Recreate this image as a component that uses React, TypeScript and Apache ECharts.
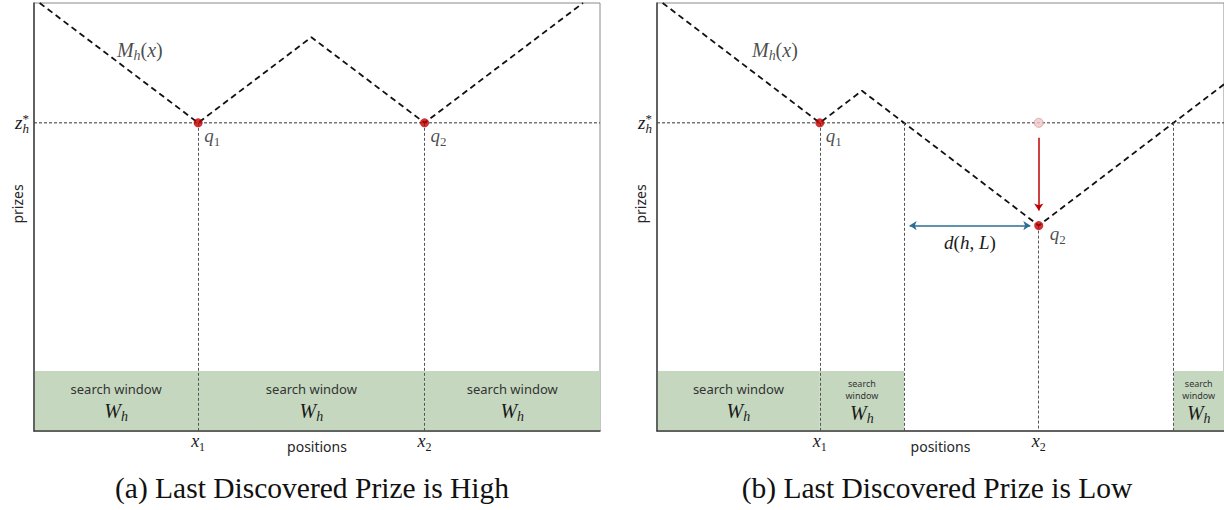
import React, { useEffect, useRef } from "react";
import * as echarts from "echarts";

// Threshold prize z*_h and the height of the search-window band (prize units)
const zStar = 72;
const windowBand = 14;

// Panel (a): last discovered prize is high
const envelopeA: number[][] = [[1, 100], [29, 72], [49, 92], [69, 72], [97, 100]];
const prizesA: number[][] = [[29, 72], [69, 72]];
const windowsA: number[][] = [[0, 29], [29, 69], [69, 100]];
const narrowA: boolean[] = [false, false, false];
const guidesA: number[][] = [[29, 72], [69, 72]];
const ticksA: number[] = [29, 69];
const envelopeLabelA: number[] = [18.7, 89];

// Panel (b): last discovered prize is low
const envelopeB: number[][] = [[1, 100], [29, 72], [36.5, 79.5], [68, 48], [101, 81]];
const prizesB: number[][] = [[29, 72], [68, 48]];
const ghostB: number[][] = [[68, 72]];
const windowsB: number[][] = [[0, 29], [29, 44], [92, 101]];
const narrowB: boolean[] = [false, true, true];
const guidesB: number[][] = [[29, 72], [44, 72], [68, 48], [92, 72]];
const ticksB: number[] = [29, 68];
const envelopeLabelB: number[] = [21, 89];
const dropB: number[][] = [[68, 68.5], [68, 51.5]];
const gapB: number[][] = [[45, 48], [66.5, 48]];

const indexNames: string[] = ["1", "2"];
const captions: string[] = ["(a) Last Discovered Prize is High", "(b) Last Discovered Prize is Low"];

const MATH = "'Liberation Serif', 'DejaVu Serif', serif";
const SANS = "'Noto Sans', 'Open Sans', sans-serif";
const INK = "#1a1a1a";
const RED = "#c00000";
const GREEN = "#c5d8bf";
const BLUE = "#2b6e93";

const mathRich = (size: number, lh: number) => {
  const small = Math.round(size * 0.68);
  return {
    m: { fontFamily: MATH, fontStyle: "italic", fontSize: size, lineHeight: lh, color: INK },
    n: { fontFamily: MATH, fontSize: size, lineHeight: lh, color: INK },
    sub: { fontFamily: MATH, fontStyle: "italic", fontSize: small, lineHeight: lh, padding: [11, 0, 0, 0], color: INK },
    subn: { fontFamily: MATH, fontSize: small, lineHeight: lh, padding: [11, 0, 0, 0], color: INK },
    sup: { fontFamily: MATH, fontSize: small, lineHeight: lh, width: 0, padding: [0, 0, 9, 0], color: INK },
    s: { fontFamily: SANS, fontSize: 13, lineHeight: 20, color: "#333" },
    ss: { fontFamily: SANS, fontSize: 9, lineHeight: 12, color: "#333" },
  };
};

type Panel = {
  left: number;
  width: number;
  xMax: number;
  envelope: number[][];
  prizes: number[][];
  prizeOffsets: number[][];
  windows: number[][];
  narrow: boolean[];
  guides: number[][];
  ticks: number[];
  envelopeLabel: number[];
  namePad: number[];
};

const panels: Panel[] = [
  {
    left: 34, width: 566, xMax: 100,
    envelope: envelopeA, prizes: prizesA, prizeOffsets: [[14, 13], [14, 13]],
    windows: windowsA, narrow: narrowA, guides: guidesA, ticks: ticksA,
    envelopeLabel: envelopeLabelA, namePad: [0, 0, 0, 0],
  },
  {
    left: 657, width: 572, xMax: 101,
    envelope: envelopeB, prizes: prizesB, prizeOffsets: [[14, 13], [19, 8]],
    windows: windowsB, narrow: narrowB, guides: guidesB, ticks: ticksB,
    envelopeLabel: envelopeLabelB, namePad: [0, 0, 0, 0],
  },
];

function buildOption() {
  const grid: any[] = [];
  const xAxis: any[] = [];
  const yAxis: any[] = [];
  const series: any[] = [];

  panels.forEach((p, i) => {
    grid.push({
      left: p.left, top: 3, width: p.width, height: 428,
      show: true, borderColor: "#8a8a8a", borderWidth: 1, backgroundColor: "transparent",
    });
    xAxis.push({
      gridIndex: i, type: "value", min: 0, max: p.xMax, z: 4,
      splitLine: { show: false },
      axisTick: { show: false },
      axisLine: { show: true, onZero: false, lineStyle: { color: "#404040", width: 1.5 } },
      axisLabel: {
        customValues: p.ticks, margin: 0,
        formatter: (v: number) => `{m|x}{subn|${indexNames[p.ticks.indexOf(v)]}}`,
        rich: mathRich(18, 20),
      },
      name: "positions", nameLocation: "middle", nameGap: 8, nameMoveOverlap: false,
      nameTextStyle: { fontFamily: SANS, fontSize: 14, color: "#262626", padding: p.namePad },
    });
    yAxis.push({
      gridIndex: i, type: "value", min: 0, max: 100, z: 4,
      splitLine: { show: false },
      axisTick: { show: false },
      axisLine: { show: true, onZero: false, lineStyle: { color: "#404040", width: 1.5 } },
      axisLabel: {
        customValues: [zStar], margin: 5,
        formatter: () => "{m|z}{sub|h}{sup|*}",
        rich: mathRich(19, 22),
      },
      name: "prizes", nameLocation: "middle", nameGap: 10, nameRotate: 90, nameMoveOverlap: false,
      nameTextStyle: { fontFamily: SANS, fontSize: 14, color: "#262626", padding: [0, 0, 0, 26] },
    });

    // z*_h level, search windows and vertical guides
    series.push({
      type: "line", xAxisIndex: i, yAxisIndex: i, z: 2,
      data: [[0, zStar], [p.xMax, zStar]],
      symbol: "none", silent: true,
      lineStyle: { color: "#333", width: 1, type: [3, 2] },
      markArea: {
        silent: true,
        itemStyle: { color: GREEN },
        label: { show: true, position: "inside", rich: mathRich(20, 24) },
        data: p.windows.map(([a, b], k) => [
          {
            xAxis: a, yAxis: 0,
            label: {
              formatter: p.narrow[k]
                ? "{ss|search}\n{ss|window}\n{m|W}{sub|h}"
                : "{s|search window}\n{m|W}{sub|h}",
            },
          },
          { xAxis: b, yAxis: windowBand },
        ]),
      },
      markLine: {
        silent: true, symbol: ["none", "none"],
        label: { show: false },
        lineStyle: { color: "#555", width: 1, type: [3, 2] },
        data: p.guides.map(([x, y]) => [{ coord: [x, y] }, { coord: [x, 0] }]),
      },
    });

    // envelope M_h(x)
    const envSeries: any = {
      type: "line", xAxisIndex: i, yAxisIndex: i, z: 3,
      data: p.envelope, symbol: "none", silent: true,
      lineStyle: { color: "#111", width: 1.8, type: [6, 4] },
    };
    if (i === 1) {
      envSeries.markLine = {
        silent: true,
        data: [
          [
            { coord: dropB[0], symbol: "none", lineStyle: { color: RED, width: 1.5, type: "solid" }, label: { show: false } },
            { coord: dropB[1], symbol: "arrow", symbolSize: 7 },
          ],
          [
            {
              coord: gapB[0], symbol: "arrow", symbolSize: 7,
              lineStyle: { color: BLUE, width: 1.5, type: "solid" },
              label: {
                show: true, position: "insideMiddleBottom", distance: 6,
                formatter: "{m|d}{n|(}{m|h}{n|, }{m|L}{n|)}", rich: mathRich(19, 22),
              },
            },
            { coord: gapB[1], symbol: "arrow", symbolSize: 7 },
          ],
        ],
      };
    }
    series.push(envSeries);

    // M_h(x) text
    series.push({
      type: "scatter", xAxisIndex: i, yAxisIndex: i, z: 4, silent: true,
      symbolSize: 1, itemStyle: { color: "rgba(0,0,0,0)" },
      data: [p.envelopeLabel],
      label: {
        show: true, position: "inside",
        formatter: "{m|M}{sub|h}{n|(}{m|x}{n|)}", rich: mathRich(20, 22),
      },
    });

    if (i === 1) {
      series.push({
        type: "scatter", xAxisIndex: i, yAxisIndex: i, z: 5, silent: true,
        symbolSize: 9, data: ghostB,
        itemStyle: { color: "#f2c6c6", borderColor: "#c9a3a3", borderWidth: 1 },
      });
    }

    // discovered prizes q_1, q_2
    series.push({
      type: "scatter", xAxisIndex: i, yAxisIndex: i, z: 6, silent: true,
      symbolSize: 9, itemStyle: { color: RED },
      data: p.prizes.map((v, k) => ({
        value: v,
        label: {
          show: true, position: "inside", offset: p.prizeOffsets[k],
          formatter: `{m|q}{subn|${indexNames[k]}}`, rich: mathRich(19, 22),
        },
      })),
    });
  });

  return {
    animation: false,
    backgroundColor: "#ffffff",
    grid, xAxis, yAxis, series,
    graphic: [
      { type: "text", x: 312, y: 488, style: { text: captions[0], fontFamily: MATH, fontSize: 29.5, fill: "#111", textAlign: "center", textVerticalAlign: "middle" } },
      { type: "text", x: 937, y: 488, style: { text: captions[1], fontFamily: MATH, fontSize: 29.5, fill: "#111", textAlign: "center", textVerticalAlign: "middle" } },
    ],
  };
}

export default function App() {
  const ref = useRef<HTMLDivElement>(null);
  useEffect(() => {
    if (!ref.current) return;
    const chart = echarts.init(ref.current, undefined, { renderer: "svg" });
    chart.setOption(buildOption() as any);
    return () => chart.dispose();
  }, []);
  return (
    <div
      ref={ref}
      style={{ position: "absolute", left: 0, top: 0, width: 1224, height: 510, background: "#fff" }}
    />
  );
}
